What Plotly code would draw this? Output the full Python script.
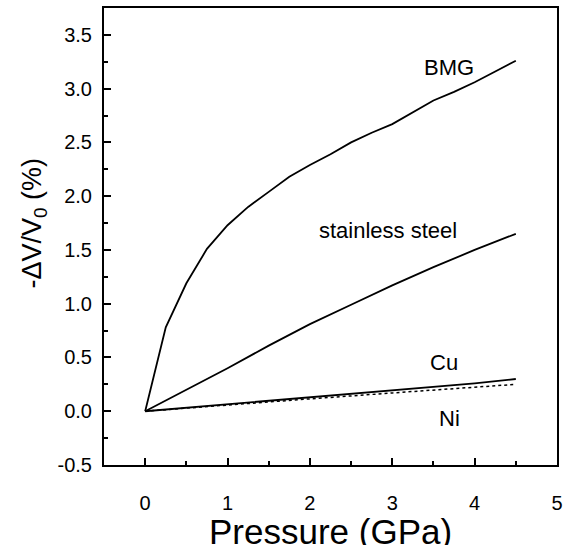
import plotly.graph_objects as go

p_bmg = [0, 0.25, 0.5, 0.75, 1.0, 1.25, 1.5, 1.75, 2.0, 2.25, 2.5, 2.75, 3.0, 3.25, 3.5, 3.75, 4.0, 4.25, 4.5]
v_bmg = [0, 0.78, 1.19, 1.51, 1.73, 1.90, 2.04, 2.18, 2.29, 2.39, 2.50, 2.59, 2.67, 2.78, 2.89, 2.97, 3.06, 3.16, 3.26]

p_ss = [0, 0.5, 1.0, 1.5, 2.0, 2.5, 3.0, 3.5, 4.0, 4.5]
v_ss = [0, 0.20, 0.40, 0.61, 0.81, 0.99, 1.17, 1.34, 1.50, 1.65]

p_cu = [0, 1.0, 2.0, 3.0, 4.0, 4.5]
v_cu = [0, 0.065, 0.13, 0.20, 0.26, 0.30]

p_ni = [0, 1.0, 2.0, 3.0, 4.0, 4.5]
v_ni = [0, 0.06, 0.115, 0.17, 0.22, 0.25]

labels = ["BMG", "stainless steel", "Cu", "Ni"]
label_x = [3.69, 2.95, 3.63, 3.69]
label_y = [3.20, 1.68, 0.45, -0.07]

x_ticks = [0, 1, 2, 3, 4, 5]
y_ticks = [-0.5, 0.0, 0.5, 1.0, 1.5, 2.0, 2.5, 3.0, 3.5]

FONT = "Liberation Sans, Arial, sans-serif"

fig = go.Figure()
fig.add_trace(go.Scatter(x=p_bmg, y=v_bmg, mode="lines", line=dict(color="black", width=1.8)))
fig.add_trace(go.Scatter(x=p_ss, y=v_ss, mode="lines", line=dict(color="black", width=1.8)))
fig.add_trace(go.Scatter(x=p_cu, y=v_cu, mode="lines", line=dict(color="black", width=1.8)))
fig.add_trace(go.Scatter(x=p_ni, y=v_ni, mode="lines", line=dict(color="black", width=1.5, dash="dot")))

for t, x, y in zip(labels, label_x, label_y):
    fig.add_annotation(x=x, y=y, text=t, showarrow=False,
                       font=dict(family=FONT, size=22, color="black"))

fig.add_annotation(xref="paper", yref="paper", x=-0.155, y=0.53, xanchor="center", yanchor="middle",
                   text="-ΔV/V<sub>0</sub> (%)", textangle=-90, showarrow=False,
                   font=dict(family=FONT, size=27, color="black"))

fig.add_annotation(xref="paper", yref="paper", x=0.5, y=-0.146, xanchor="center", yanchor="middle",
                   text="Pressure (GPa)", showarrow=False,
                   font=dict(family=FONT, size=35, color="black"))

fig.update_layout(
    width=569, height=545,
    margin=dict(l=104, r=12, t=8, b=80, autoexpand=False),
    paper_bgcolor="white", plot_bgcolor="white",
    showlegend=False,
    font=dict(family=FONT, color="black"),
    xaxis=dict(
        range=[-0.5, 5.0], tickvals=x_ticks, ticktext=[str(v) for v in x_ticks],
        ticks="inside", ticklen=7, tickwidth=2, tickcolor="black",
        minor=dict(ticks="inside", ticklen=4, tickwidth=2, tickcolor="black", dtick=0.5),
        showline=True, linewidth=2, linecolor="black", mirror=True,
        showgrid=False, zeroline=False,
        tickfont=dict(family=FONT, size=20, color="black"),
        ticklabelstandoff=19,
    ),
    yaxis=dict(
        range=[-0.5, 3.75], tickvals=y_ticks, ticktext=["%.1f" % v for v in y_ticks],
        ticks="inside", ticklen=7, tickwidth=2, tickcolor="black",
        minor=dict(ticks="inside", ticklen=4, tickwidth=2, tickcolor="black", dtick=0.25),
        showline=True, linewidth=2, linecolor="black", mirror=True,
        showgrid=False, zeroline=False,
        tickfont=dict(family=FONT, size=20, color="black"),
        ticklabelstandoff=6,
    ),
)

fig.write_html("out.html", config={"displayModeBar": False},
               post_script="document.body.style.margin='0';")
